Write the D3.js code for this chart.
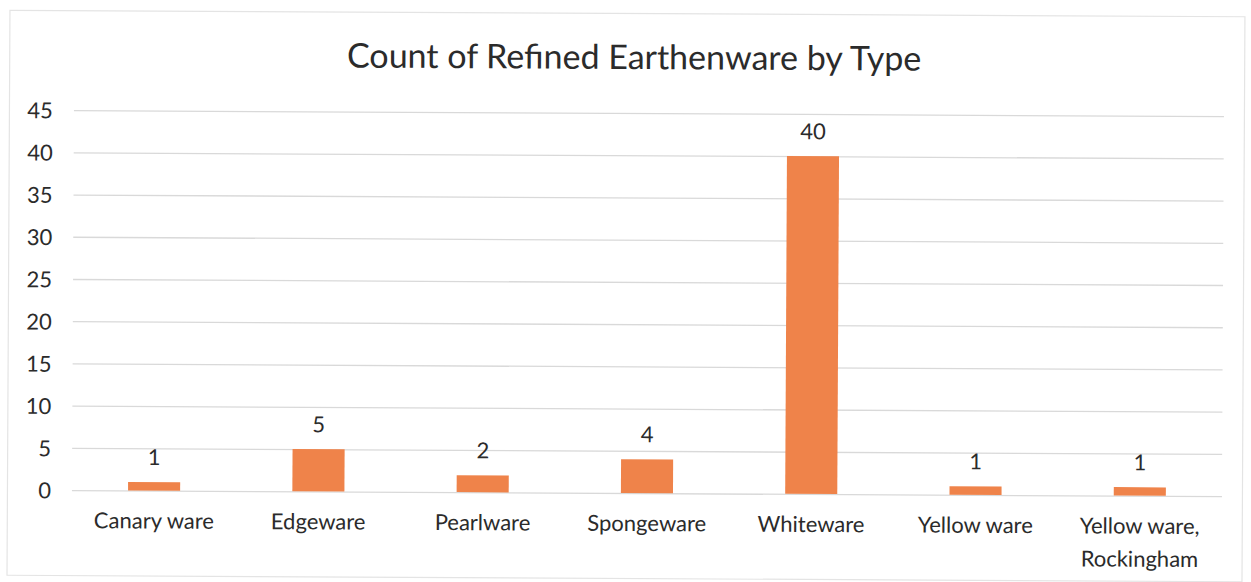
<!DOCTYPE html>
<html>
<head>
<meta charset="utf-8">
<script src="https://cdn.jsdelivr.net/npm/d3@7"></script>
<style>
  html, body { margin: 0; padding: 0; background: #fff; }
  svg { display: block; }
  text { font-family: Lato, "Open Sans", "Noto Sans", sans-serif; fill: #2b2b2b; }
</style>
</head>
<body>
<svg id="chart" width="1251" height="582"></svg>
<script>
// Refined earthenware counts by ware type
const categories = ["Canary ware", "Edgeware", "Pearlware", "Spongeware", "Whiteware", "Yellow ware", "Yellow ware, Rockingham"];
const counts = [1, 5, 2, 4, 40, 1, 1];
const yTicks = [0, 5, 10, 15, 20, 25, 30, 35, 40, 45];
const title = "Count of Refined Earthenware by Type";

const W = 1251, H = 582;
const margin = { left: 73, right: 28, top: 113, bottom: 89 };

const svg = d3.select("#chart");
const root = svg.append("g").attr("transform", "rotate(0.3," + W / 2 + "," + H / 2 + ")");

// chart area border
root.append("rect")
  .attr("x", 8.5).attr("y", 13.5)
  .attr("width", 1235).attr("height", 565)
  .attr("fill", "none").attr("stroke", "#e4e4e4").attr("stroke-width", 1.2);

const x = d3.scaleBand()
  .domain(categories)
  .range([margin.left, W - margin.right])
  .paddingInner(0.683).paddingOuter(0.3415);

const y = d3.scaleLinear()
  .domain([0, 45])
  .range([H - margin.bottom, margin.top]);

// title
root.append("text")
  .attr("x", 633).attr("y", 69)
  .attr("text-anchor", "middle")
  .style("font-size", "34px")
  .text(title);

// gridlines and value axis
const yAxis = d3.axisLeft(y)
  .tickValues(yTicks)
  .tickSize(-(W - margin.left - margin.right))
  .tickPadding(21);

const gy = root.append("g")
  .attr("transform", "translate(" + margin.left + ",0)")
  .call(yAxis);
gy.select(".domain").remove();
gy.selectAll(".tick line").attr("stroke", "#d9d9d9").attr("stroke-width", 1.3);
gy.selectAll(".tick text")
  .style("font-size", "22px")
  .style("font-family", "Lato, 'Open Sans', sans-serif")
  .attr("fill", "#2b2b2b")
  .attr("dy", "0.36em");

// bars
root.append("g").selectAll("rect")
  .data(counts)
  .join("rect")
  .attr("x", (d, i) => x(categories[i]))
  .attr("width", x.bandwidth())
  .attr("y", d => y(d))
  .attr("height", d => y(0) - y(d))
  .attr("fill", "#EF834A");

// data labels
root.append("g").selectAll("text")
  .data(counts)
  .join("text")
  .attr("x", (d, i) => x(categories[i]) + x.bandwidth() / 2)
  .attr("y", d => y(d) - 17)
  .attr("text-anchor", "middle")
  .style("font-size", "22px")
  .text(d => d);

// category axis labels (wrapped at the comma)
const gx = root.append("g");
categories.forEach(c => {
  const lines = c.includes(",") ? [c.slice(0, c.indexOf(",") + 1), c.slice(c.indexOf(",") + 2)] : [c];
  const t = gx.append("text")
    .attr("x", x(c) + x.bandwidth() / 2)
    .attr("y", 531)
    .attr("text-anchor", "middle")
    .style("font-size", "22px");
  lines.forEach((l, k) => {
    t.append("tspan")
      .attr("x", x(c) + x.bandwidth() / 2)
      .attr("dy", k === 0 ? 0 : 33)
      .text(l);
  });
});
</script>
</body>
</html>
